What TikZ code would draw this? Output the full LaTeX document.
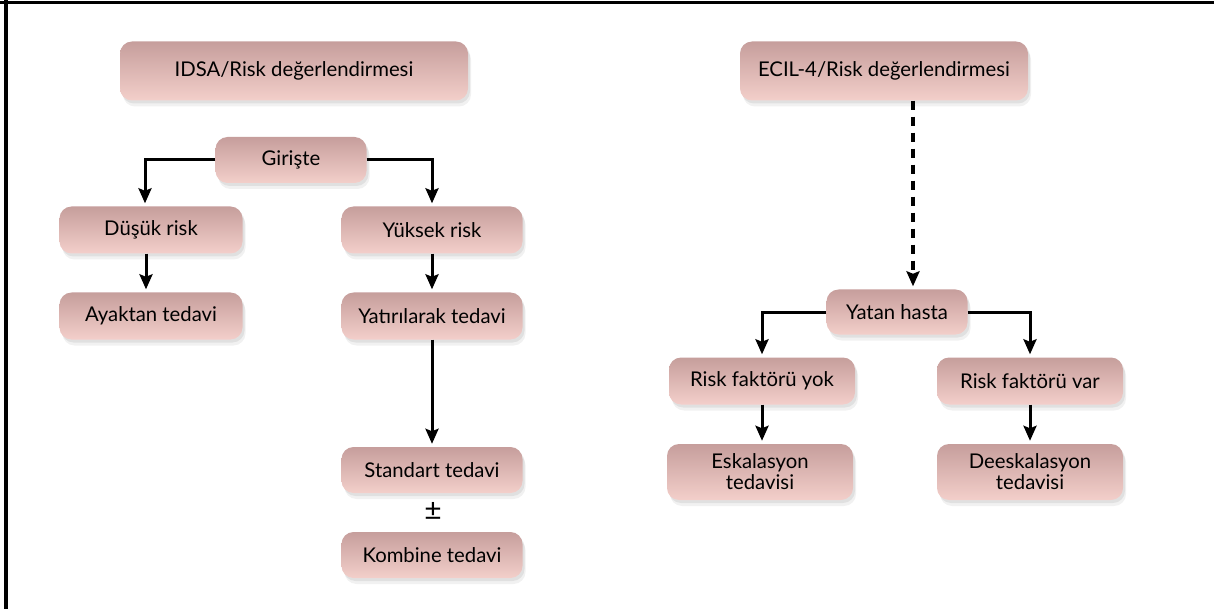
\documentclass[tikz,border=0pt]{standalone}
\usepackage{fontspec}
\setmainfont{Lato}
\usetikzlibrary{arrows.meta,shadows}
\definecolor{boxtop}{RGB}{198,158,156}
\definecolor{boxbot}{RGB}{243,207,202}
\tikzset{
  box/.style={rounded corners=12pt, top color=boxtop, bottom color=boxbot, draw=none,
    minimum height=47pt, align=center, inner sep=2pt, font=\fontsize{20.3}{22}\selectfont,
    drop shadow={opacity=0.08, shadow xshift=3pt, shadow yshift=-6pt, fill=black!70},
    drop shadow={opacity=0.10, shadow xshift=2pt, shadow yshift=-3pt, fill=black!70}},
  arr/.style={line width=3pt, -{Stealth[length=15pt,width=13pt,inset=2.5pt]}, shorten >=3pt},
  dasharr/.style={line width=3.2pt, dash pattern=on 9pt off 7pt, -{Stealth[length=15pt,width=13pt,inset=2.5pt]}, shorten >=3pt},
}
\begin{document}
\begin{tikzpicture}[x=1pt,y=-1pt]
\useasboundingbox (0,0) rectangle (1214,609);
\draw[line width=3.5pt] (0,2.5) -- (1214,2.5);
\draw[line width=3.5pt] (6,0) -- (6,609);

\node[box, minimum width=348pt, minimum height=59pt] (idsa) at (294,71) {IDSA/Risk değerlendirmesi};
\node[box, minimum width=151pt, minimum height=46pt] (gir) at (291,160) {Girişte};
\node[box, minimum width=183pt] (dusuk) at (151,230) {Düşük risk};
\node[box, minimum width=181pt] (yuksek) at (432,230) {Yüksek risk};
\node[box, minimum width=183pt] (ayak) at (151,316) {Ayaktan tedavi};
\node[box, minimum width=181pt] (yatir) at (432,316) {Yatırılarak tedavi};
\node[box, minimum width=181pt, minimum height=46pt] (std) at (432,470) {Standart tedavi};
\node[font=\fontsize{30}{30}\selectfont, inner sep=0pt] (pm) at (433,511) {±};
\node[box, minimum width=181pt, minimum height=46pt] (komb) at (432,555) {Kombine tedavi};

\node[box, minimum width=288pt, minimum height=59pt] (ecil) at (884,71) {ECIL-4/Risk değerlendirmesi};
\node[box, minimum width=141pt, minimum height=45pt] (yatan) at (897,312) {Yatan hasta};
\node[box, minimum width=186pt] (yok) at (762,381) {Risk faktörü yok};
\node[box, minimum width=186pt] (var) at (1030,381) {Risk faktörü var};
\node[box, minimum width=186pt, minimum height=56pt, font=\fontsize{20.3}{21}\selectfont] (esk) at (760,472) {Eskalasyon\\tedavisi};
\node[box, minimum width=186pt, minimum height=56pt, font=\fontsize{20.3}{21}\selectfont] (desk) at (1030,472) {Deeskalasyon\\tedavisi};

\draw[arr] (gir.west) -| ([xshift=-6pt]dusuk.north);
\draw[arr] (gir.east) -| (yuksek.north);
\draw[arr] ([xshift=-5pt]dusuk.south) -- ([xshift=-5pt]ayak.north);
\draw[arr] (yuksek.south) -- (yatir.north);
\draw[arr] (yatir.south) -- (std.north);

\draw[dasharr] ([xshift=29pt]ecil.south) -- ([xshift=29pt]ecil.south |- yatan.north);
\draw[arr] (yatan.west) -| (yok.north);
\draw[arr] (yatan.east) -| (var.north);
\draw[arr] (yok.south) -- ([xshift=2pt]esk.north);
\draw[arr] (var.south) -- (desk.north);
\end{tikzpicture}
\end{document}
